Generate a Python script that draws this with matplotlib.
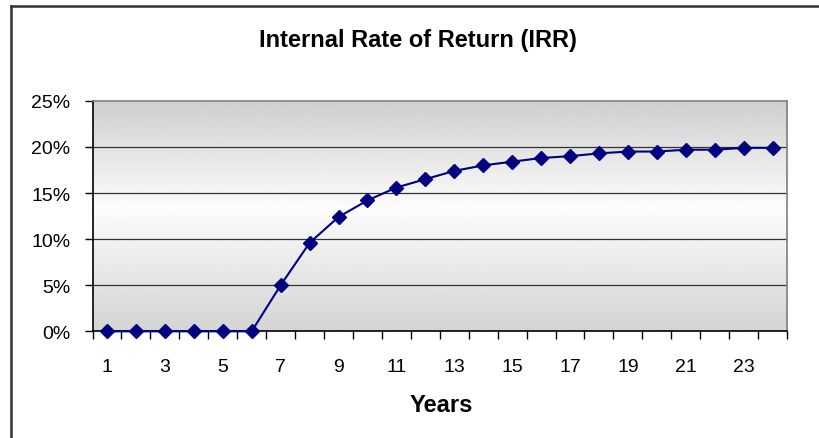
import matplotlib.pyplot as plt
import numpy as np

plt.rcParams['font.family'] = ['Liberation Sans', 'DejaVu Sans']

years = list(range(1, 25))
irr = [0, 0, 0, 0, 0, 0, 5.0, 9.6, 12.4, 14.2, 15.6, 16.5, 17.4, 18.0,
       18.4, 18.8, 19.0, 19.3, 19.5, 19.5, 19.7, 19.7, 19.9, 19.9]
y_ticks = [0, 5, 10, 15, 20, 25]
x_labels = [1, 3, 5, 7, 9, 11, 13, 15, 17, 19, 21, 23]

fig = plt.figure(figsize=(8.19, 4.39), dpi=100)
ax = fig.add_axes([0.113, 0.243, 0.848, 0.525])

# outer chart border (only top and left are visible in the reference)
fig.add_artist(plt.Line2D([0.0135, 0.0135], [0, 0.984], color='#333333', lw=1.8,
                          transform=fig.transFigure))
fig.add_artist(plt.Line2D([0.0135, 1.0], [0.984, 0.984], color='#333333', lw=1.8,
                          transform=fig.transFigure))

# gray - white - gray gradient background
t = np.linspace(0, 1, 256)
shade = np.interp(t, [0, 0.53, 1], [0.83, 0.99, 0.81])
grad = np.repeat(shade[:, None], 2, axis=1)
ax.imshow(grad, extent=[0, 1, 0, 1], transform=ax.transAxes, origin='lower',
          cmap='gray', vmin=0, vmax=1, aspect='auto', zorder=0)

ax.plot(years, irr, color='#000080', lw=1.5, marker='D', ms=7, zorder=3,
        clip_on=False)

ax.set_xlim(0.5, 24.5)
ax.set_ylim(0, 25)
ax.set_yticks(y_ticks)
ax.set_yticklabels([f'{v}%' for v in y_ticks])
ax.set_xticks(x_labels)
ax.set_xticks(np.arange(0.5, 25, 1), minor=True)
ax.tick_params(axis='x', which='major', length=0, pad=19, labelsize=14)
ax.tick_params(axis='x', which='minor', length=6, width=1, direction='out')
ax.tick_params(axis='y', length=6, width=1, pad=10, labelsize=14)

for v in y_ticks[1:-1]:
    ax.axhline(v, color='#333333', lw=0.9, zorder=1)

ax.spines['left'].set_color('black')
ax.spines['bottom'].set_color('black')
ax.spines['top'].set_color('#808080')
ax.spines['right'].set_color('#808080')
for s in ax.spines.values():
    s.set_linewidth(1.2)

fig.text(0.51, 0.908, 'Internal Rate of Return (IRR)', ha='center', va='center',
         fontsize=17, fontweight='bold')
fig.text(0.539, 0.077, 'Years', ha='center', va='center', fontsize=17,
         fontweight='bold')

fig.savefig('out.png', dpi=100)
